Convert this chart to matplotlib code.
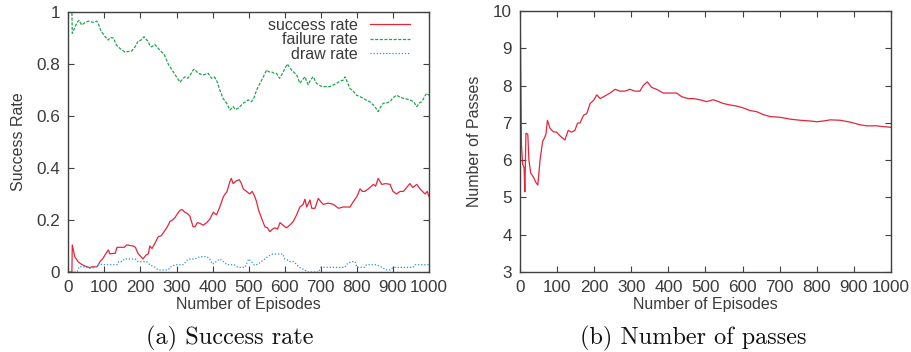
import numpy as np
import matplotlib
matplotlib.use("Agg")
import matplotlib.pyplot as plt

plt.rcParams['font.family'] = ['Liberation Sans', 'DejaVu Sans']

# (a) success / failure / draw rate
succ_ep = [0, 10, 11, 18, 27, 36, 46, 60, 65, 80, 88, 95, 102, 111, 115, 130, 135, 155, 162, 180,
           186, 193, 207, 216, 222, 226, 232, 240, 249, 258, 268, 275, 282, 289, 296, 303, 310, 316,
           323, 330, 337, 346, 351, 358, 365, 374, 384, 393, 402, 406, 411, 420, 430, 440, 448, 452,
           457, 465, 474, 480, 485, 494, 503, 510, 517, 522, 527, 535, 545, 552, 559, 566, 573, 580,
           587, 595, 605, 614, 624, 633, 642, 651, 656, 661, 670, 675, 684, 693, 700, 707, 721, 735,
           749, 762, 781, 790, 800, 809, 815, 822, 832, 846, 852, 859, 869, 880, 892, 900, 910, 920,
           929, 938, 947, 955, 966, 975, 989, 995, 1000]
succ_val = [0, 0, 0.104, 0.059, 0.04, 0.03, 0.023, 0.016, 0.02, 0.02, 0.04, 0.05, 0.066, 0.085, 0.07,
            0.072, 0.095, 0.095, 0.104, 0.1, 0.095, 0.072, 0.05, 0.066, 0.07, 0.1, 0.09, 0.11, 0.135,
            0.14, 0.16, 0.175, 0.195, 0.2, 0.21, 0.225, 0.238, 0.24, 0.23, 0.225, 0.215, 0.174, 0.174,
            0.19, 0.187, 0.18, 0.19, 0.205, 0.23, 0.225, 0.22, 0.25, 0.29, 0.31, 0.348, 0.36, 0.34,
            0.35, 0.355, 0.34, 0.32, 0.31, 0.3, 0.31, 0.29, 0.27, 0.24, 0.21, 0.174, 0.17, 0.155,
            0.165, 0.17, 0.165, 0.19, 0.18, 0.17, 0.18, 0.195, 0.22, 0.25, 0.26, 0.28, 0.25, 0.277,
            0.245, 0.245, 0.283, 0.27, 0.26, 0.265, 0.26, 0.245, 0.25, 0.25, 0.27, 0.29, 0.32, 0.31,
            0.31, 0.32, 0.337, 0.33, 0.36, 0.337, 0.34, 0.337, 0.31, 0.30, 0.31, 0.31, 0.325, 0.34,
            0.325, 0.337, 0.32, 0.30, 0.31, 0.29]

fail_ep = [0, 10, 11, 19, 24, 30, 37, 47, 56, 70, 79, 83, 91, 102, 111, 116, 125, 134, 143, 157, 176,
           185, 194, 200, 210, 216, 222, 226, 231, 240, 254, 266, 277, 291, 300, 310, 318, 324, 331,
           338, 346, 350, 360, 374, 388, 397, 405, 411, 420, 429, 439, 448, 457, 463, 471, 485, 499,
           508, 515, 522, 536, 550, 556, 563, 570, 577, 586, 596, 607, 619, 633, 642, 656, 665, 672,
           679, 688, 700, 707, 725, 744, 755, 762, 767, 781, 790, 799, 808, 818, 827, 836, 850, 859,
           866, 873, 882, 892, 900, 910, 920, 929, 938, 947, 957, 966, 973, 980, 993, 1000]
fail_val = [1.0, 1.0, 0.918, 0.943, 0.96, 0.968, 0.95, 0.96, 0.965, 0.96, 0.965, 0.956, 0.926, 0.905,
            0.892, 0.902, 0.9, 0.872, 0.86, 0.846, 0.85, 0.866, 0.889, 0.89, 0.905, 0.895, 0.886,
            0.87, 0.866, 0.875, 0.853, 0.836, 0.8, 0.77, 0.75, 0.73, 0.745, 0.75, 0.745, 0.757, 0.777,
            0.78, 0.764, 0.758, 0.764, 0.745, 0.75, 0.738, 0.7, 0.668, 0.649, 0.623, 0.636, 0.625,
            0.63, 0.649, 0.662, 0.655, 0.67, 0.7, 0.738, 0.777, 0.77, 0.77, 0.765, 0.764, 0.745, 0.77,
            0.8, 0.777, 0.758, 0.726, 0.751, 0.72, 0.74, 0.751, 0.726, 0.715, 0.713, 0.713, 0.726,
            0.735, 0.738, 0.751, 0.706, 0.695, 0.68, 0.675, 0.668, 0.66, 0.655, 0.636, 0.617, 0.635,
            0.649, 0.65, 0.655, 0.67, 0.68, 0.672, 0.668, 0.665, 0.662, 0.655, 0.636, 0.65, 0.655,
            0.687, 0.68]

draw_ep = [0, 25, 30, 45, 65, 75, 88, 95, 135, 140, 150, 155, 185, 193, 217, 226, 240, 249, 277, 282,
           296, 319, 326, 333, 350, 365, 385, 392, 400, 410, 420, 430, 440, 460, 470, 490, 500, 508,
           516, 526, 535, 545, 553, 567, 595, 600, 610, 615, 625, 632, 640, 655, 665, 695, 698, 702,
           767, 772, 785, 795, 800, 822, 827, 855, 869, 882, 892, 901, 956, 961, 1000]
draw_val = [0, 0, 0.02, 0.02, 0.014, 0.02, 0.031, 0.028, 0.028, 0.04, 0.04, 0.05, 0.05, 0.04, 0.04,
            0.028, 0.018, 0.008, 0.008, 0.018, 0.028, 0.028, 0.04, 0.05, 0.05, 0.059, 0.059, 0.05,
            0.03, 0.04, 0.05, 0.04, 0.028, 0.028, 0.018, 0.018, 0.05, 0.04, 0.026, 0.03, 0.04, 0.05,
            0.06, 0.069, 0.069, 0.05, 0.045, 0.04, 0.04, 0.03, 0.018, 0.008, 0.0, 0.0, 0.014, 0.018,
            0.018, 0.03, 0.04, 0.04, 0.018, 0.018, 0.028, 0.028, 0.018, 0.008, 0.008, 0.018, 0.018,
            0.028, 0.028]

# (b) number of passes
pass_ep = [0, 1, 4, 7, 11, 13, 16, 21, 24, 29, 36, 43, 48, 54, 61, 66, 70, 74, 81, 90, 99, 108, 121,
           130, 139, 148, 155, 162, 171, 180, 189, 198, 207, 216, 225, 234, 243, 256, 270, 283, 296,
           310, 323, 332, 343, 355, 368, 386, 400, 413, 422, 436, 454, 467, 485, 503, 521, 535, 548,
           566, 584, 602, 620, 638, 656, 674, 701, 728, 755, 782, 800, 818, 836, 863, 890, 916, 934,
           961, 979, 1000]
pass_val = [0, 9.5, 6.4, 5.9, 5.8, 5.15, 6.72, 6.7, 6.0, 5.65, 5.55, 5.4, 5.33, 6.0, 6.5, 6.6, 6.7,
            7.07, 6.85, 6.76, 6.75, 6.65, 6.54, 6.8, 6.75, 6.8, 6.99, 7.0, 7.2, 7.25, 7.52, 7.6, 7.75,
            7.65, 7.7, 7.75, 7.8, 7.9, 7.85, 7.85, 7.9, 7.85, 7.85, 8.0, 8.1, 7.95, 7.9, 7.8, 7.8, 7.8,
            7.8, 7.7, 7.65, 7.65, 7.62, 7.57, 7.62, 7.57, 7.52, 7.48, 7.45, 7.4, 7.33, 7.3, 7.22,
            7.17, 7.15, 7.1, 7.07, 7.05, 7.03, 7.05, 7.08, 7.07, 7.02, 6.95, 6.92, 6.92, 6.9, 6.88]

xticks = list(range(0, 1001, 100))
RED = '#e3263c'
GREEN = '#1fa650'
BLUE = '#2e8fd8'
TXT = '#3a3a3a'
FS = 11.5


def style(ax):
    for s in ax.spines.values():
        s.set_color('#404040')
        s.set_linewidth(1.0)
    ax.tick_params(direction='in', top=True, right=True, length=4, width=0.8,
                   colors='#404040', labelcolor=TXT, labelsize=FS + 0.8, pad=6)
    ax.set_xlim(0, 1000)
    ax.set_xticks(xticks)


fig = plt.figure(figsize=(9.12, 3.52), dpi=100)

ax1 = fig.add_axes([68.3 / 912, 80 / 352, 360.7 / 912, 260 / 352])
ax1.plot(succ_ep, succ_val, color=RED, lw=0.9, label='success rate')
ax1.plot(fail_ep, fail_val, color=GREEN, lw=0.9, dashes=(2.5, 1.2), label='failure rate')
ax1.plot(draw_ep, draw_val, color=BLUE, lw=0.9, dashes=(1, 1.5), label='draw rate')
style(ax1)
ax1.set_ylim(0, 1)
ax1.set_yticks([0, 0.2, 0.4, 0.6, 0.8, 1])
ax1.set_yticklabels(['0', '0.2', '0.4', '0.6', '0.8', '1'])
ax1.set_xlabel('Number of Episodes', fontsize=FS, color=TXT, labelpad=1)
ax1.set_ylabel('Success Rate', fontsize=FS, color=TXT, labelpad=7)
leg = ax1.legend(loc='upper right', frameon=False, markerfirst=False, fontsize=FS,
                 handlelength=2.5, handletextpad=0.75, labelspacing=-0.02,
                 borderaxespad=0, borderpad=0, bbox_to_anchor=(0.947, 0.978))
for t in leg.get_texts():
    t.set_color(TXT)

ax2 = fig.add_axes([520 / 912, 80 / 352, 371 / 912, 261 / 352])
ax2.plot(pass_ep, pass_val, color=RED, lw=0.9)
style(ax2)
ax2.set_ylim(3, 10)
ax2.set_yticks(range(3, 11))
ax2.set_xlabel('Number of Episodes', fontsize=FS, color=TXT, labelpad=1)
ax2.set_ylabel('Number of Passes', fontsize=FS, color=TXT, labelpad=8)

fig.text(230 / 912, 1 - 338 / 352, '(a) Success rate', ha='center', va='center',
         family='cmr10', fontsize=17.5, color='#111111')
fig.text(693 / 912, 1 - 338 / 352, '(b) Number of passes', ha='center', va='center',
         family='cmr10', fontsize=17.5, color='#111111')

fig.savefig('out.png', dpi=100)
